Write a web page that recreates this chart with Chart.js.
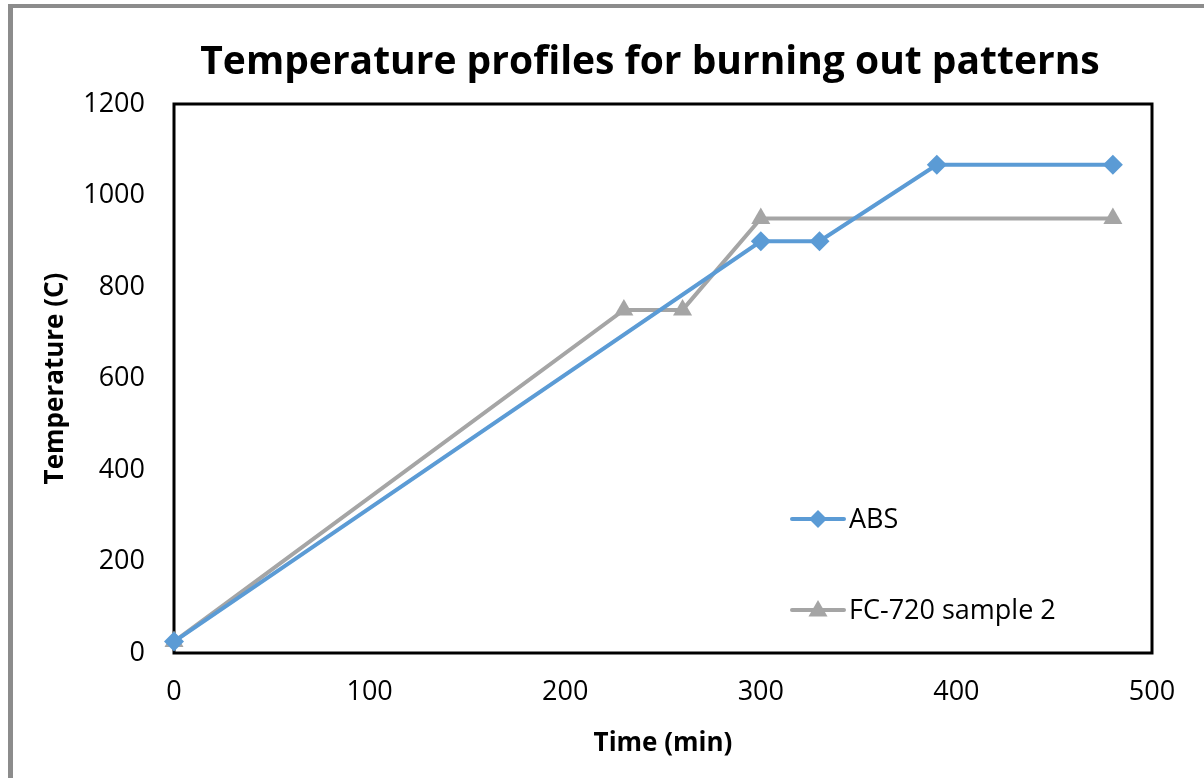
<!DOCTYPE html>
<html>
<head>
<meta charset="utf-8">
<script src="https://cdn.jsdelivr.net/npm/chart.js@4.4.1/dist/chart.umd.min.js"></script>
<style>
  html, body { margin: 0; padding: 0; background: #fff; }
  #wrap { position: relative; width: 1204px; height: 778px; overflow: hidden; }
  #frame { position: absolute; left: 8px; top: 4px; width: 1300px; height: 771px;
           border-top: 4px solid #8c8c8c; border-left: 5px solid #8c8c8c; border-bottom: 1px solid #dcdcdc; box-sizing: content-box; }
  canvas { position: absolute; left: 0; top: 0; }
</style>
</head>
<body>
<div id="wrap">
  <div id="frame"></div>
  <canvas id="c" width="1204" height="778"></canvas>
</div>
<script>
// ---- data ----
const chartTitle = "Temperature profiles for burning out patterns";
const xAxisTitle = "Time (min)";
const yAxisTitle = "Temperature (C)";
const absName = "ABS";
const absTime = [0, 300, 330, 390, 480];
const absTemp = [25, 900, 900, 1067, 1067];
const fcName = "FC-720 sample 2";
const fcTime = [0, 230, 260, 300, 480];
const fcTemp = [25, 750, 750, 950, 950];
const xTicks = [0, 100, 200, 300, 400, 500];
const yTicks = [0, 200, 400, 600, 800, 1000, 1200];

const FONT = "'Open Sans', 'Liberation Sans', sans-serif";
const BLUE = '#5b9bd5';
const GRAY = '#a5a5a5';

function toXY(xs, ys) { return xs.map((x, i) => ({ x: x, y: ys[i] })); }

function drawMarker(ctx, style, x, y, r, color) {
  ctx.save();
  ctx.fillStyle = color;
  ctx.beginPath();
  if (style === 'rectRot') {
    ctx.moveTo(x - r, y); ctx.lineTo(x, y - r); ctx.lineTo(x + r, y); ctx.lineTo(x, y + r);
  } else {
    const w = r * Math.sqrt(3) / 2;
    ctx.moveTo(x, y - r); ctx.lineTo(x + w, y + r / 2); ctx.lineTo(x - w, y + r / 2);
  }
  ctx.closePath();
  ctx.fill();
  ctx.restore();
}

const framePlugin = {
  id: 'frame',
  beforeDatasetsDraw(chart) {
    const { ctx, chartArea: a } = chart;
    ctx.save();
    ctx.strokeStyle = '#000';
    ctx.lineWidth = 3;
    ctx.strokeRect(a.left, a.top, a.right - a.left, a.bottom - a.top);
    ctx.restore();
  },
  afterDraw(chart) {
    const { ctx } = chart;
    // title
    ctx.save();
    let size = 42;
    ctx.font = `bold ${size}px ${FONT}`;
    while (ctx.measureText(chartTitle).width > 907 && size > 20) {
      size -= 0.5;
      ctx.font = `bold ${size}px ${FONT}`;
    }
    ctx.fillStyle = '#000';
    ctx.textAlign = 'center';
    ctx.textBaseline = 'alphabetic';
    ctx.fillText(chartTitle, 650, 74);
    ctx.restore();

    // legend
    const items = [
      { name: absName, color: BLUE, style: 'rectRot', r: 9, y: 519 },
      { name: fcName, color: GRAY, style: 'triangle', r: 11, y: 610 }
    ];
    ctx.save();
    items.forEach(it => {
      ctx.strokeStyle = it.color;
      ctx.lineWidth = 4;
      ctx.lineCap = 'round';
      ctx.beginPath();
      ctx.moveTo(792, it.y); ctx.lineTo(844, it.y);
      ctx.stroke();
      drawMarker(ctx, it.style, 818, it.style === 'triangle' ? it.y + 1 : it.y, it.r, it.color);
      ctx.fillStyle = '#000';
      ctx.font = `27px ${FONT}`;
      ctx.textAlign = 'left';
      ctx.textBaseline = 'middle';
      ctx.fillText(it.name, 849, it.y + 1);
    });
    ctx.restore();
  }
};

new Chart(document.getElementById('c'), {
  type: 'line',
  data: {
    datasets: [
      {
        label: absName, data: toXY(absTime, absTemp),
        borderColor: BLUE, backgroundColor: BLUE, borderWidth: 4,
        pointStyle: 'rectRot', pointRadius: 10, pointBorderWidth: 0,
        pointBackgroundColor: BLUE, tension: 0, clip: false
      },
      {
        label: fcName, data: toXY(fcTime, fcTemp),
        borderColor: GRAY, backgroundColor: GRAY, borderWidth: 4,
        pointStyle: 'triangle', pointRadius: 11, pointBorderWidth: 0,
        pointBackgroundColor: GRAY, tension: 0, clip: false
      }
    ]
  },
  options: {
    responsive: false,
    animation: false,
    events: [],
    layout: { padding: { left: 0, right: 52, top: 104, bottom: 0 } },
    plugins: { legend: { display: false }, title: { display: false }, tooltip: { enabled: false } },
    scales: {
      x: {
        type: 'linear', min: 0, max: 500,
        afterBuildTicks(s) { s.ticks = xTicks.map(v => ({ value: v })); },
        afterFit(s) { s.height = 125; },
        grid: { display: false, drawTicks: false },
        border: { display: false },
        ticks: { color: '#000', font: { family: FONT, size: 27 }, padding: 23, maxRotation: 0,
                 callback: v => String(v) },
        title: { display: true, text: xAxisTitle, color: '#000',
                 font: { family: FONT, size: 26, weight: 'bold' }, padding: { top: 0, bottom: 19 } }
      },
      y: {
        type: 'linear', min: 0, max: 1200,
        afterBuildTicks(s) { s.ticks = yTicks.map(v => ({ value: v })); },
        afterFit(s) { s.width = 174; },
        grid: { display: false, drawTicks: false },
        border: { display: false },
        ticks: { color: '#000', font: { family: FONT, size: 27 }, padding: 29,
                 callback: v => String(v) },
        title: { display: true, text: yAxisTitle, color: '#000',
                 font: { family: FONT, size: 26, weight: 'bold' }, padding: { top: 40, bottom: 0 } }
      }
    }
  },
  plugins: [framePlugin]
});
</script>
</body>
</html>
